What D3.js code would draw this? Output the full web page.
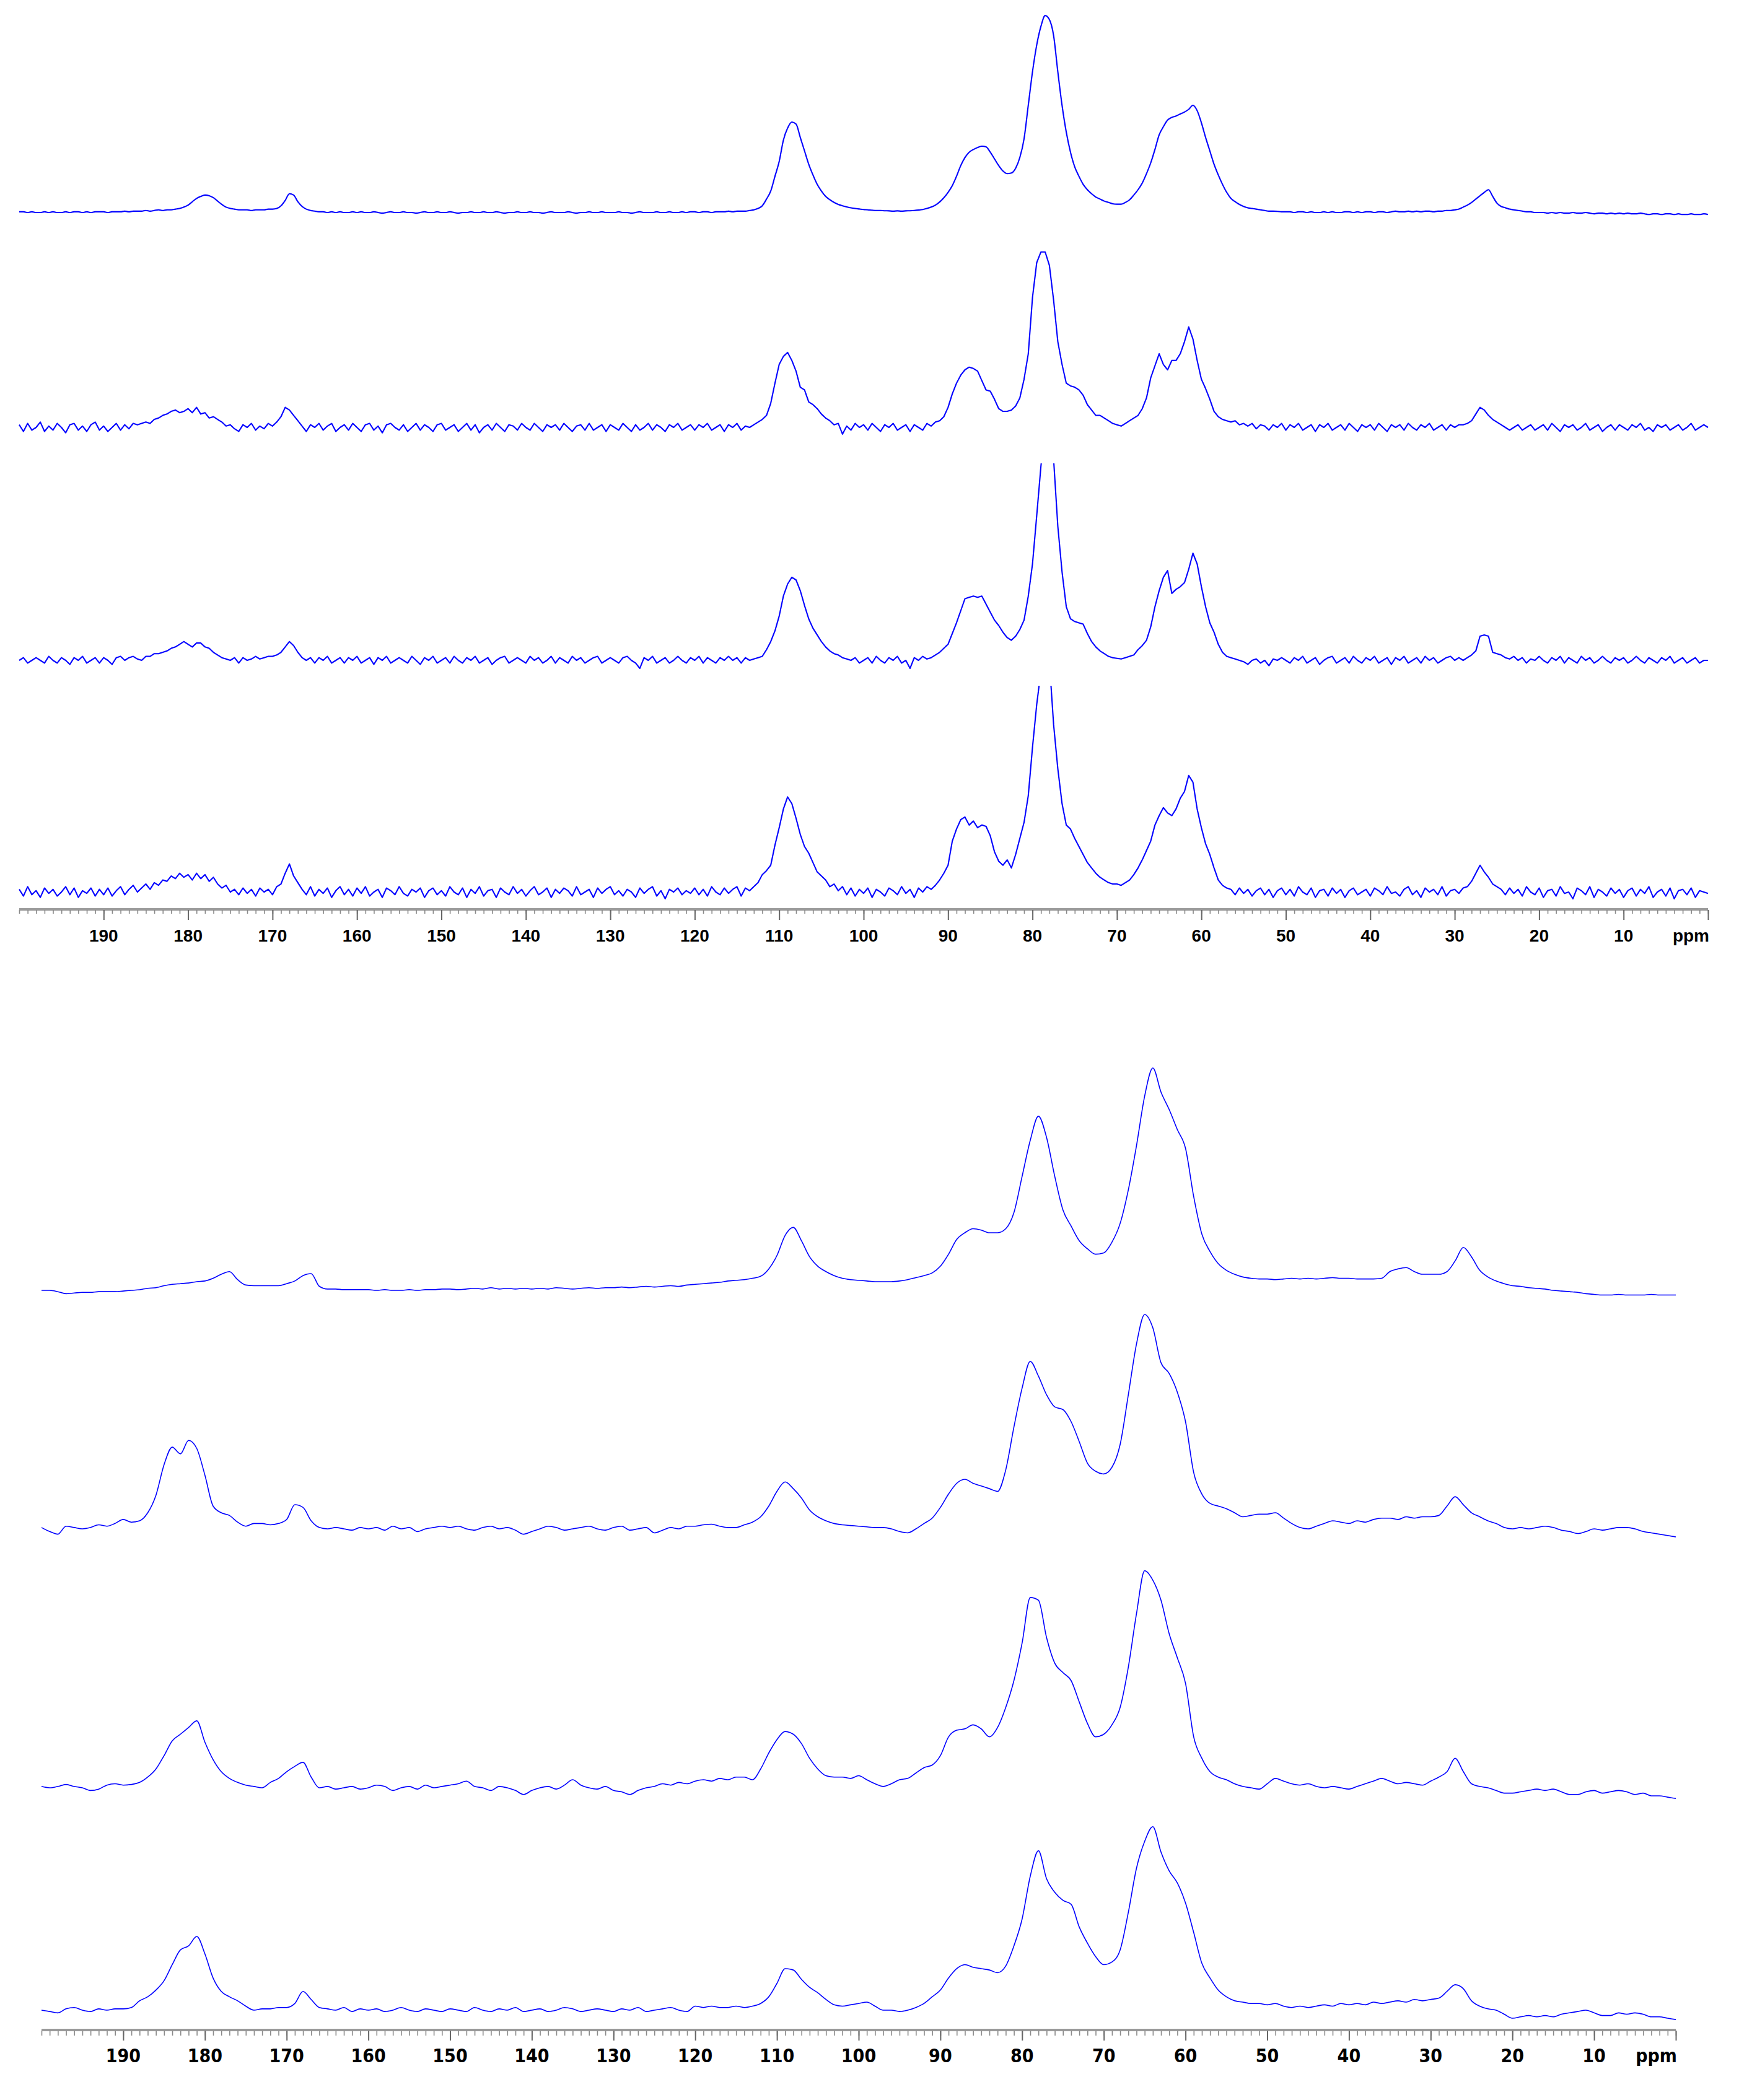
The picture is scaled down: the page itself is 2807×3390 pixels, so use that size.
<!DOCTYPE html>
<html><head><meta charset="utf-8">
<script src="https://cdn.jsdelivr.net/npm/d3@7"></script>
<style>body{margin:0;background:#fff}svg{display:block}</style>
</head><body>
<script>
// ---------- DATA ----------
// chemical-shift axis (ppm), values listed from 200 ppm down to 0 ppm
const ppmStart = 200;
const topStep = 0.5;      // ppm spacing of the upper four spectra
const bottomStep = 1;     // ppm spacing of the lower four spectra
const tickLabels = [190,180,170,160,150,140,130,120,110,100,90,80,70,60,50,40,30,20,10];
const unitLabel = "ppm";

// upper panel, spectrum 1 (top) ... spectrum 4 (bottom); intensities (arbitrary units)
const upper1 = [
0.5,0.5,0,0.5,0,0,0.5,0,0.5,0,0,0.5,0,0.5,0.5,0,0.5,0,0.5,0.5,
0.5,0,0.5,0.5,0.5,1,0.5,1,1,1,1.5,1,1.5,2,1.5,2,2,2.5,3,4,
5.5,8,10.5,12,13,12.5,11,8.5,6,4,3,2.5,2,2,2,1.5,2,2,2,2.5,
2.5,3,5,9,14,13,8,4.5,2.5,1.5,1,0.5,0.5,0,0.5,0,0.5,0,0,0.5,
0,0.5,0,0,0.5,0,-0.5,0,0.5,0,0,0.5,0,0,-0.5,0,0.5,0,0,0.5,
0,0,0.5,0,-0.5,0,0,0.5,0,0,0.5,0,0,0.5,0,-0.5,0,0,0.5,0,
0,0.5,0,0,-0.5,0,0.5,0,0,0,0.5,0,-0.5,0,0,0.5,0,0,0.5,0,
0,0,0.5,0,0,-0.5,0,0.5,0,0,0,0.5,0,0,0.5,0,0,0.5,0,0.5,
0.5,0,0.5,0.5,0,0.5,0.5,0.5,1,0.5,1,1,1,1.5,2,3,5,10,16,27,
38,54,63,67.5,66,56,46,36,28,21,16,12,9.5,7.5,6,5,4.2,3.5,3,2.6,
2.2,2,1.7,1.5,1.5,1.3,1.2,1,1.2,1,1.2,1.3,1.5,1.8,2.2,3,4,5.5,7.8,11,
15,20,27,35,41,45,47,48.5,49.5,49,45,40,35,31,29,29.5,33,41,55,80,
105,125,139,147,144,132,105,80,60,45,34,27,21,17,14,11.5,10,8.5,7.5,6.5,
6.2,6.2,7.5,9.5,13,17,22,29,37,47,58,64,69,71,72,73.5,75,77,80,76,
67,56,46,36,28,21,15,10.5,8,6,4.5,3.5,3,2.5,2,1.5,1,1,0.8,0.5,
0.5,0.5,0,0.5,0.5,0,0.5,0,0,0.5,0,0.5,0,0,0.5,0.5,0,0.5,0,0.5,
0.5,0,0.5,0.5,0,0.5,1,0.5,0.5,1,0.5,1,0.5,1,1,0.5,1,1,1.5,1.5,
2,2.5,4,5.5,7.5,10,12.5,15,17,12,7,4.5,3.5,2.5,2,1.5,1,0.5,0.5,0,
0,0,-0.5,0,-0.5,0,-0.5,-0.5,0,-0.5,-0.5,0,-0.5,-1,-0.5,-0.5,-1,-0.5,-1,-0.5,
-1,-0.5,-1,-1,-0.5,-1,-1.5,-1,-1,-1.5,-1,-1,-1.5,-1,-1.5,-1.5,-1,-1.5,-1.5,-1,
-1.5];

const upper2 = [
2,-3,3,-2,0,4,-3,1,-2,3,0,-4,2,3,-2,1,-3,2,4,-2,
1,-3,0,3,-2,2,-1,3,2,3,4,3,6,7,9,10,12,13,11,12,
14,11,15,10,11,7,8,6,4,1,2,-1,-3,2,0,3,-2,1,-1,3,
1,4,8,15,13,9,5,1,-3,2,0,3,-2,1,3,-3,0,2,-2,3,
0,-3,2,3,-2,1,-4,2,3,0,-2,2,-3,0,3,-2,2,0,-3,2,
3,-2,0,2,-3,0,3,-2,2,-4,0,2,-2,3,0,-3,2,1,-2,3,
0,-2,3,0,-3,2,0,2,-2,3,0,-3,1,2,-2,3,-2,0,2,-3,
2,0,-2,3,0,-3,2,-2,0,3,-2,2,0,-3,2,0,3,-2,0,2,
-2,2,0,3,-2,0,2,-3,2,0,3,-2,1,0,2,4,6,9,18,33,
47,53,56,50,42,30,28,19,17,14,10,7,5,2,3,-5,1,-2,3,0,
2,-2,3,0,-3,2,0,3,-2,0,2,-3,2,0,-2,3,1,4,5,8,
15,25,33,39,43,45,44,42,35,28,27,21,14,12,12,13,16,22,36,55,
97,123,131,131,121,95,64,47,33,31,30,28,24,17,13,9,9,7,5,3,
2,1,3,5,7,9,14,22,37,46,55,47,43,50,50,55,64,75,66,50,
36,29,21,12,8,6,5,4,5,2,3,1,3,-1,2,1,-2,2,0,3,
-2,2,0,3,-2,0,2,-3,2,0,3,-2,0,2,-2,3,0,-3,2,0,
2,-2,3,0,-3,2,0,2,-2,3,0,-2,2,0,3,-2,0,2,-2,2,
0,2,2,3,5,10,15,13,9,6,4,2,0,-2,0,2,-2,0,2,-2,
0,2,-2,3,0,-3,2,0,2,-2,0,3,-2,0,2,-3,0,2,-2,2,
0,-2,2,0,3,-2,0,-3,2,0,2,-2,0,2,-2,0,3,-2,0,2,
0];

const upper3 = [
0,2,-2,0,2,0,-2,3,0,-2,2,0,-3,2,0,3,-2,0,2,-2,
2,0,-3,2,3,0,2,3,1,0,3,3,5,5,6,7,9,10,12,14,
12,10,13,13,10,9,6,4,2,1,0,2,-2,2,0,1,3,1,2,3,
3,4,6,10,14,11,6,2,0,2,-2,2,0,3,-2,0,2,-2,2,0,
3,-2,0,2,-3,2,0,3,-2,0,2,0,-2,3,0,-3,2,0,3,-2,
0,2,-2,3,0,-2,2,0,3,-2,0,2,-3,0,2,3,-2,0,2,0,
-2,3,0,2,-2,0,3,-2,2,0,-2,3,0,2,-2,0,2,3,-2,0,
2,0,-2,2,3,0,-2,-6,2,0,3,-2,0,2,-2,0,3,0,-2,2,
0,3,-2,2,0,-2,2,0,3,0,2,-2,2,0,1,2,3,8,14,22,
33,48,57,62,60,52,41,31,24,19,14,10,7,5,4,2,1,0,2,-2,
0,2,-2,3,0,-2,2,0,3,-2,0,-6,2,0,3,1,2,4,6,9,
12,20,28,37,46,47,48,47,48,42,36,30,26,21,17,15,18,23,30,48,
72,108,145,175,178,150,100,66,40,31,29,28,27,20,14,10,7,5,3,2,
1.5,1,2,3,4,8,11,15,25,40,52,62,67,50,53,55,58,68,80,72,
55,40,28,21,12,6,3,2,1,0,-1,-3,0,1,-2,0,-4,1,0,2,
0,-2,2,0,3,-2,0,2,-3,0,2,3,-2,0,2,-2,3,0,-2,2,
0,3,-2,0,2,-3,2,0,3,-2,0,2,-2,3,0,2,-2,0,2,3,
0,2,0,2,4,7,18,19,18,6,5,4,2,1,3,0,2,-2,1,0,
3,0,-2,2,0,3,-2,2,0,-2,3,0,2,-2,0,3,0,-2,2,0,
2,-2,0,3,0,-2,2,0,-2,2,0,3,-2,0,2,-2,0,2,-2,0,
0];

const upper4 = [
2,-3,4,-2,1,-4,3,-1,2,-3,0,4,-2,3,-4,1,-1,3,-3,2,
-2,3,-3,1,4,-2,2,5,0,3,6,2,7,5,9,8,12,10,14,11,
13,9,14,10,13,8,11,6,3,5,0,2,-2,3,-1,2,-3,3,0,2,
-2,4,6,14,21,12,7,2,-2,4,-3,2,-1,3,-4,1,4,-2,2,-3,
3,-1,4,-3,0,2,-4,3,1,-2,4,-1,-3,2,0,3,-4,1,3,-2,
1,-3,4,0,-2,3,-4,2,-1,4,-3,1,2,-4,3,0,-2,4,-1,2,
-3,1,4,-2,0,3,-4,2,-1,3,1,-3,4,-2,0,2,-4,3,-1,2,
4,-2,1,-3,2,0,-4,3,-1,2,4,-3,1,-5,2,0,3,-2,1,-1,
3,-2,2,-3,4,0,-2,3,-1,2,4,-3,3,1,4,7,13,16,20,35,
48,62,71,66,55,43,34,29,22,15,12,9,4,6,1,4,-2,3,-3,2,
-1,3,-4,2,0,-3,3,1,-2,4,-1,2,-4,3,0,4,2,5,9,14,
20,38,47,54,56,50,53,48,50,49,42,30,23,20,24,18,28,40,52,72,
108,140,165,180,172,125,92,66,50,47,40,34,28,22,18,14,11,9,7,6,
6,5,7,9,13,18,24,31,38,50,57,63,59,57,62,70,75,87,82,62,
48,36,28,18,9,5,3,2,-2,3,-1,2,-3,1,3,-2,2,-4,1,3,
-2,2,-3,4,0,-2,3,-4,1,2,-3,3,-1,2,-4,1,3,-2,0,2,
-3,3,1,-2,4,-1,0,-3,2,4,-2,1,-4,3,0,2,-2,4,-3,1,
2,-1,3,4,8,14,20,15,11,6,4,2,-2,3,-1,2,-3,4,0,-2,
3,-4,1,2,-3,4,-1,0,-5,3,1,-2,4,-4,2,0,-3,3,-1,2,
-4,1,3,-3,2,-1,4,-4,0,2,-3,3,-5,1,2,-2,3,-4,1,0,
-1];

// lower panel, spectrum 1 (top) ... spectrum 4 (bottom)
const lower1 = [
0,0,-1,-2.5,-2,-1.5,-1.5,-1,-1,-1,
-0.5,0,0.5,1.5,2,3.5,4.5,5,5.5,6.5,
7,9,12,14,8,4,3.5,3.5,3.5,3.5,
5,7,11,12.5,3,1,1,0.5,0.5,0.5,
0.5,0,0.5,0,0,0.5,0,0.5,0.5,1,
1,0.5,1,1.5,1,2,1,1.5,1,1.5,
1,1.5,1,2,1.5,1,1.5,2,1.5,2,
2,2.5,2,2.5,3,2.5,3,3.5,3,4,
4.5,5,5.5,6,7,7.5,8,9,10.5,16,
26,41,47,37,25,18,14,11,9,8,
7.5,7,6.5,6.5,6.5,7,8,9.5,11,13,
18,27,38,43,46,45,43,43,46,58,
85,112,130,114,85,60,48,37,31,27,
28,36,50,75,108,145,166,148,135,120,
106,70,42,29,20,15,12,10,9,8.5,
8.5,8,8.5,9,8.5,9,8.5,9,9.5,9,
9,8.5,8.5,8.5,9,14,16,17,14,12,
12,12,14,22,32,25,15,10,7,5,
3.5,3,2,1.5,1,0,-0.5,-1,-1.5,-2.5,
-3,-3.5,-3.5,-3,-3.5,-3.5,-3.5,-3,-3.5,-3.5,
-3.5];

const lower2 = [
1,-2,-4,2,1,0,1,3,2,4,
7,5,6,12,25,48,61,56,66,60,
40,17,12,10,5,2,4,4,3,4,
7,18,16,6,1,0,1,0,-1,1,
0,1,-1,2,0,1,-2,0,1,2,
1,2,0,-1,1,2,0,1,-1,-4,
-2,0,2,1,-1,0,1,2,0,-1,
1,2,-1,0,1,-3,-1,1,0,2,
2,3,3.5,2,1,1,3,5,9,17,
28,35,30,23,14,9,6,4,3,2.5,
2,1.5,1,1,0,-2,-3,0,4,8,
16,26,34,37,34,32,30,28,44,76,
105,125,114,100,91,89,80,65,49,43,
41,46,63,100,138,160,150,124,116,102,
80,42,26,19,17,15,12,9,10,11,
11,12,8,4,1,0,2,4,6,5,
4,6,5,7,8,8,7,9,8,9,
9,10,17,24,18,12,9,6,4,1,
0,1,0,1,2,1,-1,-2,-3.5,-2,
0,-1,0,1,1,0,-2,-3,-4,-5,
-6];

const lower3 = [
1,0,1,2.5,1,0,-2,-1,2,3,
2,2.5,4,8,14,24,35,40,45,50,
34,21,12,7,4,2,1,0,4,7,
12,16,19,8,0,1,-1,0,1,-1,
0,2,1,-2,0,1,-1,2,0,1,
2,3,5,1,0,-2,1,0,-2,-5,
-2,0,1,-1,2,6,2,0,-1,1,
-2,-3,-5,-2,0,1,3,2,4,3,
5,6,5,7,6,8,8,6,14,26,
36,42,40,33,22,14,9,8,8,7,
9,6,3,1,3,6,7,11,15,17,
24,38,43,44,47,44,38,45,60,80,
108,142,140,112,93,86,80,64,48,38,
40,47,60,90,130,162,155,140,115,97,
78,38,22,12,8,6,3,1,0,-1,
3,7,5,3,2,3,1,0,1,0,
-1,1,3,5,7,5,3,4,3,2,
5,8,12,22,12,3,1,0,-2,-4,
-4,-3,-2,-1,-2,-1,-3,-5,-5,-3,
-2,-4,-3,-2,-3,-5,-4,-6,-6,-7,
-8];

const lower4 = [
0,-1,-2,1,2,0,-1,1,0,1,
1,2,7,10,15,22,34,45,48,55,
42,24,14,10,7,3,0,1,1,2,
2,5,14,8,2,1,0,2,-1,1,
0,1,-1,0,2,0,-1,1,0,-1,
1,0,-1,2,0,-1,1,0,2,-1,
0,1,-1,0,2,1,-1,0,1,0,
-1,1,0,2,-1,0,1,2,0,-1,
3,2,3,2,2,3,2,3,5,10,
20,31,30,23,17,13,8,4,3,4,
5,6,3,0,0,-1,0,2,5,10,
15,24,31,34,32,31,30,28,33,48,
68,100,119,98,88,82,79,62,50,40,
34,36,45,73,106,126,137,118,104,95,
80,58,35,24,15,10,7,6,5,5,
4,5,3,2,3,2,3,4,3,5,
4,5,4,6,5,6,7,6,8,7,
8,9,14,19,16,7,3,1,0,-3,
-6,-5,-4,-5,-4,-5,-3,-2,-1,0,
-2,-4,-4,-2,-3,-2,-3,-5,-5,-6,
-7];

// ---------- DRAWING ----------
const W = 2807, H = 3390;
const svg = d3.select("body").append("svg").attr("width", W).attr("height", H);
const unitPx = 2.1626;      // px per intensity unit
const blue = "#0000ff";

const panels = [
  { xRange:[31,2757], axisY:1468, minorLen:6, majorLen:16, labelY:1520,
    font:"'Liberation Sans', Arial, sans-serif", fontSize:28, lineW:2.1, step:topStep, curve:d3.curveLinear,
    traces:[ {values:upper1, base:343, curve:d3.curveMonotoneX},
             {values:upper2, base:690},
             {values:upper3, base:1066, clipTop:748},
             {values:upper4, base:1440, clipTop:1107} ] },
  { xRange:[67,2705], axisY:3277, minorLen:8, majorLen:16, labelY:3329,
    font:"'Liberation Sans Narrow', 'DejaVu Sans Condensed', 'Liberation Sans', sans-serif", fontSize:30, lineW:1.6, step:bottomStep, curve:d3.curveMonotoneX,
    traces:[ {values:lower1, base:2083},
             {values:lower2, base:2468},
             {values:lower3, base:2886},
             {values:lower4, base:3245} ] }
];

let clipId = 0;
panels.forEach(p => {
  const x = d3.scaleLinear().domain([ppmStart, 0]).range(p.xRange);
  const g = svg.append("g");

  p.traces.forEach(t => {
    const y = d3.scaleLinear().domain([0, 100]).range([t.base, t.base - 100 * unitPx]);
    const pts = t.values.map((v, i) => [ppmStart - i * p.step, v]);
    const line = d3.line().x(d => x(d[0])).y(d => y(d[1])).curve(t.curve || p.curve);
    const path = g.append("path").datum(pts)
      .attr("d", line).attr("fill", "none")
      .attr("stroke", blue).attr("stroke-width", p.lineW)
      .attr("stroke-linejoin", "round");
    if (t.clipTop !== undefined) {
      const id = "clip" + (clipId++);
      svg.append("clipPath").attr("id", id).append("rect")
        .attr("x", 0).attr("y", t.clipTop).attr("width", W).attr("height", H - t.clipTop);
      path.attr("clip-path", `url(#${id})`);
    }
  });

  // axis line
  g.append("line")
    .attr("x1", x(ppmStart)).attr("x2", x(0))
    .attr("y1", p.axisY).attr("y2", p.axisY)
    .attr("stroke", "#9a9a9a").attr("stroke-width", 4);

  // minor ticks every 1 ppm
  const minor = g.append("g").attr("transform", `translate(0,${p.axisY + 1})`)
    .call(d3.axisBottom(x).tickValues(d3.range(0, ppmStart + 1, 1))
      .tickSize(p.minorLen).tickSizeOuter(0).tickFormat(""));
  minor.select(".domain").remove();
  minor.selectAll(".tick line").attr("stroke", "#8a8a8a").attr("stroke-width", 1.6);

  // major ticks every 10 ppm
  const major = g.append("g").attr("transform", `translate(0,${p.axisY + 1})`)
    .call(d3.axisBottom(x).tickValues(d3.range(0, ppmStart, 10))
      .tickSize(p.majorLen).tickSizeOuter(0).tickFormat(""));
  major.select(".domain").remove();
  major.selectAll(".tick line").attr("stroke", "#666").attr("stroke-width", 2);

  // tick labels
  g.selectAll("text.lbl").data(tickLabels).join("text")
    .attr("class", "lbl")
    .attr("x", d => x(d)).attr("y", p.labelY)
    .attr("text-anchor", "middle")
    .attr("font-family", p.font).attr("font-size", p.fontSize).attr("font-weight", "bold")
    .attr("fill", "#000").text(d => d);
  g.append("text")
    .attr("x", x(0) + 2).attr("y", p.labelY)
    .attr("text-anchor", "end")
    .attr("font-family", p.font).attr("font-size", p.fontSize).attr("font-weight", "bold")
    .attr("fill", "#000").text(unitLabel);
});
</script>
</body></html>
